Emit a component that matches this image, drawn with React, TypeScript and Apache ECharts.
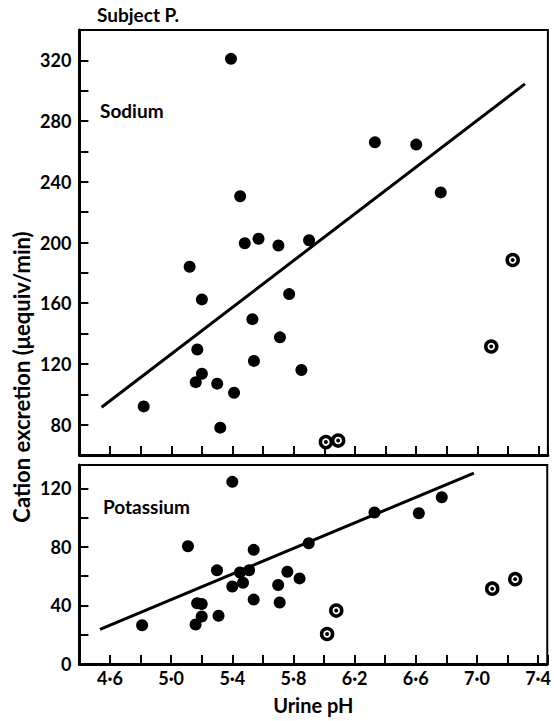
import React, { useEffect, useRef } from "react";
import * as echarts from "echarts";

// Sodium (top panel)
const naFilledPH = [5.39, 5.45, 5.48, 5.57, 5.70, 5.90, 5.12, 5.20, 5.77, 5.53, 5.71, 5.17, 5.54, 5.85, 5.20, 5.16, 5.30, 5.41, 5.32, 4.82, 6.33, 6.60, 6.76];
const naFilledValue = [321, 230.5, 199.5, 202.5, 198, 201.5, 184, 162.5, 166, 149.5, 137.5, 129.5, 122, 116, 113.5, 108, 107, 101, 78, 92, 266, 264.5, 233];
const naCircledPH = [6.01, 6.09, 7.09, 7.23];
const naCircledValue = [68.5, 69.5, 131.5, 188.5];
const naFitPH = [4.545, 7.31];
const naFitValue = [91.5, 304.5];

// Potassium (bottom panel)
const kFilledPH = [5.40, 5.11, 5.54, 5.30, 5.45, 5.51, 5.40, 5.47, 5.17, 5.20, 5.54, 5.31, 5.20, 5.16, 4.81, 6.77, 6.33, 6.62, 5.90, 5.76, 5.84, 5.70, 5.71];
const kFilledValue = [124.5, 80.5, 78, 64, 62.5, 64, 53, 55.5, 41.5, 41, 44, 33, 32.5, 27, 26.5, 114, 103.5, 103, 82.5, 63, 58.5, 54, 42];
const kCircledPH = [6.02, 6.08, 7.10, 7.25];
const kCircledValue = [20.5, 36.5, 51.5, 58];
const kFitPH = [4.535, 6.98];
const kFitValue = [23.7, 130.5];

// Tick labels
const xTickLabels = ["4·6", "5·0", "5·4", "5·8", "6·2", "6·6", "7·0", "7·4"];
const naTickLabels = [80, 120, 160, 200, 240, 280, 320];
const kTickLabels = [0, 40, 80, 120];

const FONT = "Lato, 'Open Sans', sans-serif";

const pairs = (xs: number[], ys: number[]) => xs.map((x, i) => [x, ys[i]]);

function fmtPH(v: number): string {
  const r = Math.round(v * 10);
  const s = `${Math.floor(r / 10)}·${r % 10}`;
  return xTickLabels.includes(s) && Math.abs(v * 10 - r) < 1e-6 ? s : "";
}

function buildOption(): any {
  const xAxis = (gridIndex: number, showLabels: boolean) => ({
    type: "value",
    gridIndex,
    min: 4.4,
    max: 7.46,
    interval: 0.2,
    axisLine: { show: true, onZero: false, lineStyle: { color: "#000", width: 3 } },
    axisTick: { show: true, inside: true, length: 9, lineStyle: { color: "#000", width: 2 } },
    axisLabel: {
      show: showLabels,
      formatter: fmtPH,
      color: "#000",
      fontFamily: FONT,
      fontWeight: "bold",
      fontSize: 18,
      margin: 5,
    },
    splitLine: { show: false },
    name: showLabels ? "Urine pH" : "",
    nameLocation: "middle",
    nameGap: 31,
    nameTextStyle: { color: "#000", fontFamily: FONT, fontWeight: "bold", fontSize: 20 },
  });
  const yAxis = (gridIndex: number, min: number, max: number, labels: number[]) => ({
    type: "value",
    gridIndex,
    min,
    max,
    interval: 20,
    axisLine: { show: true, onZero: false, lineStyle: { color: "#000", width: 3 } },
    axisTick: { show: true, inside: true, length: 9, lineStyle: { color: "#000", width: 2 } },
    axisLabel: {
      formatter: (v: number) => (labels.includes(Math.round(v)) && Math.abs(v - Math.round(v)) < 1e-6 ? String(Math.round(v)) : ""),
      color: "#000",
      fontFamily: FONT,
      fontWeight: "bold",
      fontSize: 18,
      margin: 8,
    },
    splitLine: { show: false },
  });

  const filled = (xi: number, data: number[][]) => ({
    type: "scatter",
    xAxisIndex: xi,
    yAxisIndex: xi,
    data,
    symbol: "circle",
    symbolSize: 12,
    itemStyle: { color: "#000", opacity: 1 },
    z: 3,
  });
  const ring = (xi: number, data: number[][]) => ({
    type: "scatter",
    xAxisIndex: xi,
    yAxisIndex: xi,
    data,
    symbol: "circle",
    symbolSize: 11,
    itemStyle: { color: "#fff", borderColor: "#000", borderWidth: 3.5, opacity: 1 },
    z: 4,
  });
  const dot = (xi: number, data: number[][]) => ({
    type: "scatter",
    xAxisIndex: xi,
    yAxisIndex: xi,
    data,
    symbol: "circle",
    symbolSize: 4,
    itemStyle: { color: "#000", opacity: 1 },
    z: 5,
  });
  const fit = (xi: number, data: number[][]) => ({
    type: "line",
    xAxisIndex: xi,
    yAxisIndex: xi,
    data,
    showSymbol: false,
    symbol: "none",
    lineStyle: { color: "#000", width: 3, opacity: 1 },
    z: 2,
  });

  return {
    animation: false,
    backgroundColor: "#fff",
    grid: [
      { left: 79.4, width: 468.5, top: 30, height: 425, show: true, borderColor: "#000", borderWidth: 2, backgroundColor: "transparent" },
      { left: 79.4, width: 468.5, top: 465, height: 199, show: true, borderColor: "#000", borderWidth: 2, backgroundColor: "transparent" },
    ],
    xAxis: [xAxis(0, false), xAxis(1, true)],
    yAxis: [yAxis(0, 60, 340, naTickLabels), yAxis(1, 0, 136, kTickLabels)],
    series: [
      fit(0, pairs(naFitPH, naFitValue)),
      filled(0, pairs(naFilledPH, naFilledValue)),
      ring(0, pairs(naCircledPH, naCircledValue)),
      dot(0, pairs(naCircledPH, naCircledValue)),
      fit(1, pairs(kFitPH, kFitValue)),
      filled(1, pairs(kFilledPH, kFilledValue)),
      ring(1, pairs(kCircledPH, kCircledValue)),
      dot(1, pairs(kCircledPH, kCircledValue)),
    ],
    graphic: [
      {
        type: "text",
        x: 97,
        y: 14,
        style: { text: "Subject P.", font: `bold 19px ${FONT}`, fill: "#000", align: "left", verticalAlign: "middle" },
      },
      {
        type: "text",
        x: 100,
        y: 110,
        style: { text: "Sodium", font: `bold 19px ${FONT}`, fill: "#000", align: "left", verticalAlign: "middle" },
      },
      {
        type: "text",
        x: 103,
        y: 506,
        style: { text: "Potassium", font: `bold 19px ${FONT}`, fill: "#000", align: "left", verticalAlign: "middle" },
      },
      {
        type: "text",
        x: 21,
        y: 377,
        rotation: Math.PI / 2,
        style: { text: "Cation excretion (μequiv/min)", font: `bold 22px ${FONT}`, fill: "#000", align: "center", verticalAlign: "middle" },
      },
    ],
  };
}

export default function App() {
  const ref = useRef<HTMLDivElement>(null);
  useEffect(() => {
    if (!ref.current) return;
    const chart = echarts.init(ref.current, null, { renderer: "svg" });
    chart.setOption(buildOption());
    return () => chart.dispose();
  }, []);
  return (
    <div
      ref={ref}
      style={{ position: "absolute", left: 0, top: 0, width: 554, height: 721, background: "#fff" }}
    />
  );
}
